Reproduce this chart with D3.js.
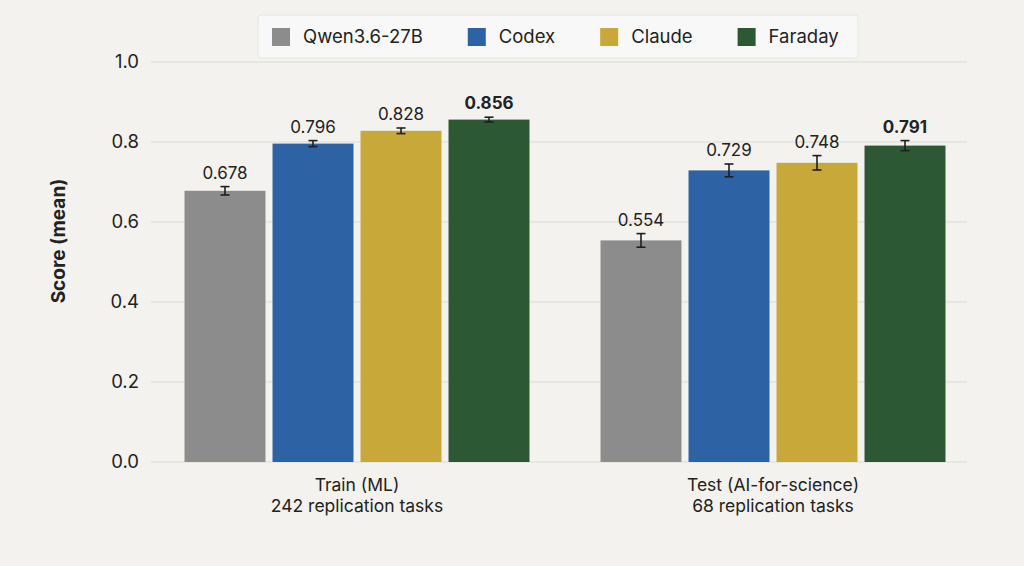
<!DOCTYPE html>
<html>
<head>
<meta charset="utf-8">
<script src="https://cdn.jsdelivr.net/npm/d3@7"></script>
<style>
  html, body { margin: 0; padding: 0; background: #f3f2ee; }
  svg { display: block; font-family: Inter, "Noto Sans", sans-serif; }
</style>
</head>
<body>
<script>
// data
const groups = ['Train (ML)|242 replication tasks', 'Test (AI-for-science)|68 replication tasks']
const models = ['Qwen3.6-27B', 'Codex', 'Claude', 'Faraday']
const colors = ['#8c8c8c', '#2d62a4', '#c9a83a', '#2d5834']
const trainMeans = [0.678, 0.796, 0.828, 0.856]
const trainErr = [0.0105, 0.0075, 0.007, 0.006]
const testMeans = [0.554, 0.729, 0.748, 0.791]
const testErr = [0.017, 0.016, 0.018, 0.0125]
const yTicks = [0, 0.2, 0.4, 0.6, 0.8, 1.0]

const means = [trainMeans, testMeans]
const errs = [trainErr, testErr]

const rows = []
groups.forEach((g, gi) => {
	models.forEach((m, mi) => {
		rows.push({ group: g, model: m, mean: means[gi][mi], err: errs[gi][mi], best: mi === models.length - 1 })
	})
})

const W = 1024, H = 566
const svg = d3.select('body').append('svg').attr('width', W).attr('height', H)

const gridLeft = 151, gridRight = 967

const y = d3.scaleLinear().domain([0, 1]).range([462, 62])
const x0 = d3.scaleBand().domain(groups).range([149, 981]).padding(0)
const x1 = d3.scaleBand().domain(models).range([32, 384]).paddingInner(0.08).paddingOuter(0.04)
const color = d3.scaleOrdinal().domain(models).range(colors)

// gridlines
svg.append('g')
	.selectAll('line')
	.data(yTicks)
	.enter().append('line')
		.attr('x1', gridLeft).attr('x2', gridRight)
		.attr('y1', (d) => y(d)).attr('y2', (d) => y(d))
		.attr('stroke', '#dcdbd5').attr('stroke-width', 1.2)

// y axis labels
const yAxis = d3.axisLeft(y).tickValues(yTicks).tickFormat(d3.format('.1f')).tickSize(0).tickPadding(0)
svg.append('g')
	.attr('transform', 'translate(139,0)')
	.call(yAxis)
	.call((g) => g.select('.domain').remove())
	.selectAll('text')
		.attr('font-size', 18.5)
		.attr('font-family', 'Inter, "Noto Sans", sans-serif')
		.attr('fill', '#222')

svg.append('text')
	.attr('transform', 'translate(65,241) rotate(-90)')
	.attr('text-anchor', 'middle')
	.attr('font-size', 19)
	.attr('font-weight', 700)
	.attr('fill', '#222')
	.text('Score (mean)')

// bars
const bars = svg.append('g')
bars.selectAll('rect')
	.data(rows)
	.enter().append('rect')
		.attr('x', (d) => x0(d.group) + x1(d.model))
		.attr('y', (d) => y(d.mean))
		.attr('width', x1.bandwidth())
		.attr('height', (d) => y(0) - y(d.mean))
		.attr('fill', (d) => color(d.model))

// error bars
const eb = svg.append('g').attr('stroke', '#1e1e1e').attr('stroke-width', 1.6)
rows.forEach((d) => {
	const cx = x0(d.group) + x1(d.model) + x1.bandwidth() / 2
	eb.append('line').attr('x1', cx).attr('x2', cx).attr('y1', y(d.mean - d.err)).attr('y2', y(d.mean + d.err))
	eb.append('line').attr('x1', cx - 4.5).attr('x2', cx + 4.5).attr('y1', y(d.mean - d.err)).attr('y2', y(d.mean - d.err))
	eb.append('line').attr('x1', cx - 4.5).attr('x2', cx + 4.5).attr('y1', y(d.mean + d.err)).attr('y2', y(d.mean + d.err))
})

// value labels
svg.append('g')
	.selectAll('text')
	.data(rows)
	.enter().append('text')
		.attr('x', (d) => x0(d.group) + x1(d.model) + x1.bandwidth() / 2)
		.attr('y', (d) => y(d.mean + d.err) - 8)
		.attr('text-anchor', 'middle')
		.attr('font-size', 17)
		.attr('font-weight', (d) => d.best ? 700 : 400)
		.attr('fill', '#222')
		.text((d) => d3.format('.3f')(d.mean))

// group labels, two lines each
const gl = svg.append('g')
	.selectAll('text')
	.data(groups)
	.enter().append('text')
		.attr('text-anchor', 'middle')
		.attr('font-size', 17.5)
		.attr('fill', '#222')
gl.each(function (d) {
	const parts = d.split('|')
	const cx = x0(d) + x0.bandwidth() / 2
	d3.select(this).selectAll('tspan')
		.data(parts)
		.enter().append('tspan')
			.attr('x', cx)
			.attr('y', (p, i) => 491 + i * 21)
			.text((p) => p)
})

// legend
const legend = svg.append('g')
legend.append('rect')
	.attr('x', 258).attr('y', 15).attr('width', 600).attr('height', 43)
	.attr('rx', 3)
	.attr('fill', '#f7f8f7')
	.attr('stroke', '#e6e6e1')

let lx = 272
models.forEach((m) => {
	const item = legend.append('g').attr('transform', `translate(${lx},0)`)
	item.append('rect')
		.attr('x', 0).attr('y', 28).attr('width', 18).attr('height', 18)
		.attr('fill', color(m))
	const t = item.append('text')
		.attr('x', 31).attr('y', 43)
		.attr('font-size', 18.5)
		.attr('fill', '#222')
		.text(m)
	lx += 31 + t.node().getComputedTextLength() + 45
})
</script>
</body>
</html>
